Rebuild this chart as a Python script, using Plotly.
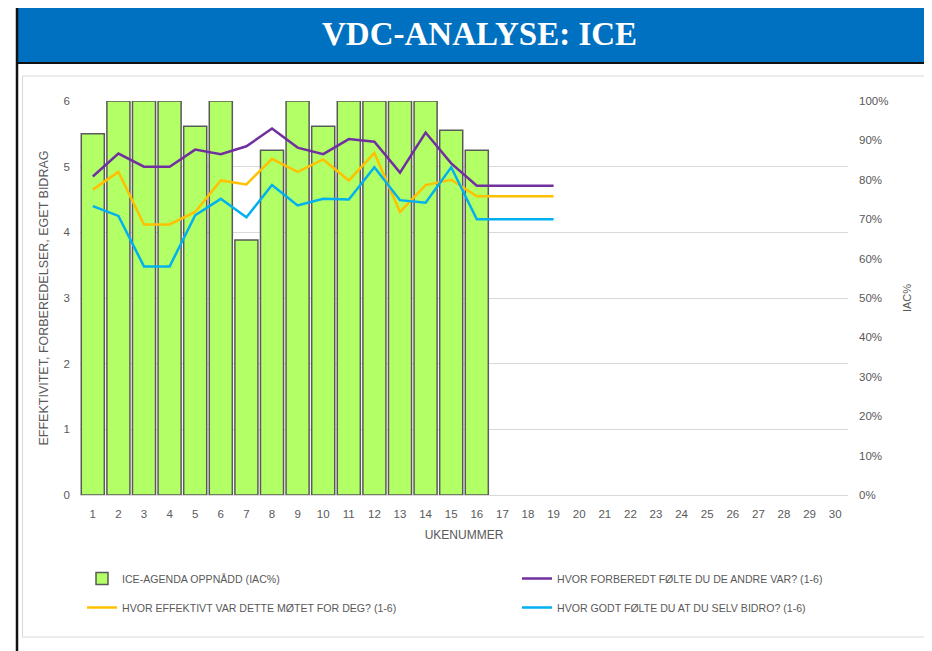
import plotly.graph_objects as go

weeks_all = list(range(1, 31))
bar_weeks = list(range(1, 17))
line_weeks = list(range(1, 20))

iac_pct = [0.917, 1.0, 1.0, 1.0, 0.936, 1.0, 0.647, 0.875, 1.0, 0.936,
           1.0, 1.0, 1.0, 1.0, 0.926, 0.875]
forberedt_andre = [4.85, 5.2, 5.0, 5.0, 5.26, 5.19, 5.31, 5.58, 5.29, 5.19,
                   5.42, 5.38, 4.91, 5.52, 5.05, 4.71, 4.71, 4.71, 4.71]
effektivt = [4.65, 4.92, 4.12, 4.12, 4.31, 4.79, 4.73, 5.12, 4.92, 5.11,
             4.79, 5.21, 4.31, 4.72, 4.8, 4.55, 4.55, 4.55, 4.55]
selv_bidro = [4.4, 4.25, 3.48, 3.48, 4.26, 4.51, 4.23, 4.72, 4.41, 4.51,
              4.5, 4.99, 4.49, 4.45, 4.99, 4.2, 4.2, 4.2, 4.2]

names = ["ICE-AGENDA OPPNÅDD (IAC%)",
         "HVOR FORBEREDT FØLTE DU DE ANDRE VAR? (1-6)",
         "HVOR EFFEKTIVT VAR DETTE MØTET FOR DEG? (1-6)",
         "HVOR GODT FØLTE DU AT DU SELV BIDRO? (1-6)"]

# page body has an 8px margin; figure is sized to fit the 932x651 window
OFF = 8
W, H = 932 - OFF, 651 - OFF
L, R, T, B = 80 - OFF, W - (848 - OFF), 101 - OFF, H - (495 - OFF)
PW, PH = W - L - R, H - T - B


def px(x):
    return (x - OFF - L) / PW


def py(y):
    return (H - B - (y - OFF)) / PH


GRAY = "#595959"
NARROW = "Liberation Sans Narrow, Liberation Sans, Arial, sans-serif"
SANS = "Liberation Sans, Arial, sans-serif"

fig = go.Figure()
fig.add_trace(go.Bar(
    x=bar_weeks, y=iac_pct, name=names[0], yaxis="y", legend="legend", legendgroup="a",
    marker=dict(color="#B3FF66", line=dict(color="#5a5a5a", width=1.5)),
))
fig.add_trace(go.Scatter(x=line_weeks, y=forberedt_andre, name=names[1], yaxis="y2",
                         legend="legend2", legendgroup="b",
                         mode="lines", line=dict(color="#7030A0", width=2.5)))
fig.add_trace(go.Scatter(x=line_weeks, y=effektivt, name=names[2], yaxis="y2",
                         legend="legend", legendgroup="c",
                         mode="lines", line=dict(color="#FFC000", width=2.5)))
fig.add_trace(go.Scatter(x=line_weeks, y=selv_bidro, name=names[3], yaxis="y2",
                         legend="legend2", legendgroup="d",
                         mode="lines", line=dict(color="#00B0F0", width=2.5)))

shapes = [
    dict(type="rect", xref="paper", yref="paper", x0=px(18), x1=px(940), y0=py(0), y1=py(62),
         fillcolor="#0070C0", line=dict(width=0), layer="below"),
    dict(type="line", xref="paper", yref="paper", x0=px(18), x1=px(940), y0=py(63), y1=py(63),
         line=dict(color="#111111", width=2)),
    dict(type="line", xref="paper", yref="paper", x0=px(17), x1=px(17), y0=py(0), y1=py(660),
         line=dict(color="#111111", width=2.5)),
    dict(type="rect", xref="paper", yref="paper", x0=px(22.5), x1=px(930), y0=py(76), y1=py(637),
         line=dict(color="#D9D9D9", width=1), fillcolor="rgba(0,0,0,0)", layer="below"),
]

annotations = [
    dict(text="<b>VDC-ANALYSE: ICE</b>", xref="paper", yref="paper", x=px(479), y=py(34),
         xanchor="center", yanchor="middle", showarrow=False,
         font=dict(family="Liberation Serif, Times New Roman, serif", size=33, color="white")),
]

legend_common = dict(orientation="v", yanchor="top", xanchor="left", tracegroupgap=10,
                     font=dict(family=NARROW, size=10.6, color=GRAY), itemwidth=30,
                     bgcolor="rgba(0,0,0,0)")

fig.update_layout(
    width=W, height=H,
    margin=dict(l=L, r=R, t=T, b=B),
    paper_bgcolor="white", plot_bgcolor="white",
    font=dict(family=SANS, color=GRAY, size=12),
    bargap=0.1,
    shapes=shapes,
    annotations=annotations,
    xaxis=dict(range=[0.5, 30.5], tickmode="array", tickvals=weeks_all,
               ticktext=[str(w) for w in weeks_all], showgrid=False, zeroline=False,
               showline=False, ticks="", ticklabelstandoff=10,
               tickfont=dict(family=SANS, size=11.5, color=GRAY),
               title=dict(text="UKENUMMER", font=dict(family=SANS, size=12, color=GRAY),
                          standoff=12)),
    yaxis=dict(range=[0, 1], side="right", tickformat=".0%", dtick=0.1, tick0=0,
               showgrid=False, zeroline=False, showline=False, ticks="",
               ticklabelstandoff=10,
               tickfont=dict(family=SANS, size=11.5, color=GRAY),
               title=dict(text="IAC%", font=dict(family=SANS, size=11, color=GRAY),
                          standoff=15)),
    yaxis2=dict(range=[0, 6], side="left", overlaying="y", dtick=1, tick0=0,
                showgrid=True, gridcolor="#D9D9D9", gridwidth=1,
                zeroline=True, zerolinecolor="#D9D9D9", zerolinewidth=1,
                showline=False, ticks="", ticklabelstandoff=9,
                tickfont=dict(family=SANS, size=11.5, color=GRAY),
                title=dict(text="EFFEKTIVITET, FORBEREDELSER, EGET BIDRAG",
                           font=dict(family=SANS, size=12.5, color=GRAY), standoff=12)),
    legend=dict(x=px(82), y=py(564), **legend_common),
    legend2=dict(x=px(517), y=py(564), **legend_common),
    showlegend=True,
)

fig.write_html("out.html")
